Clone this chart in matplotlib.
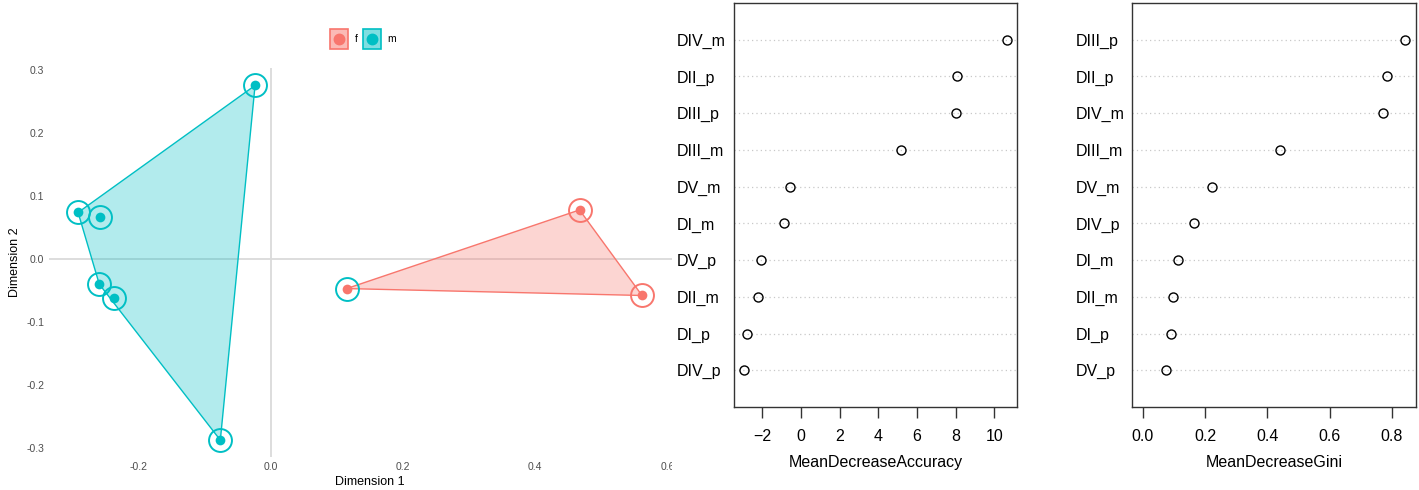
import numpy as np
import matplotlib
matplotlib.use("Agg")
import matplotlib.pyplot as plt
from matplotlib.patches import Patch, Polygon, Rectangle
from matplotlib.lines import Line2D
from matplotlib.legend_handler import HandlerBase

plt.rcParams['font.family'] = ['Liberation Sans', 'DejaVu Sans']

# --- MDS coordinates of samples ---
dim1 = [-0.0235, -0.291, -0.258, -0.259, -0.236, -0.076, 0.115, 0.467, 0.5615]
dim2 = [0.276, 0.074, 0.067, -0.040, -0.0625, -0.288, -0.047, 0.078, -0.058]
group = ['m', 'm', 'm', 'm', 'm', 'm', 'f', 'f', 'f']
ring_group = ['m', 'm', 'm', 'm', 'm', 'm', 'm', 'f', 'f']
levels = ['f', 'm']

# --- random forest variable importance ---
acc_vars = ['DIV_m', 'DII_p', 'DIII_p', 'DIII_m', 'DV_m', 'DI_m', 'DV_p', 'DII_m', 'DI_p', 'DIV_p']
acc_vals = [10.63, 8.05, 7.99, 5.17, -0.60, -0.86, -2.10, -2.21, -2.79, -2.93]
gini_vars = ['DIII_p', 'DII_p', 'DIV_m', 'DIII_m', 'DV_m', 'DIV_p', 'DI_m', 'DII_m', 'DI_p', 'DV_p']
gini_vals = [0.843, 0.783, 0.773, 0.441, 0.2216, 0.1635, 0.114, 0.0958, 0.0893, 0.0742]

acc_ticks = [-2, 0, 2, 4, 6, 8, 10]
gini_ticks = [0.0, 0.2, 0.4, 0.6, 0.8]
mds_xticks = [-0.2, 0.0, 0.2, 0.4, 0.6]
mds_yticks = [-0.3, -0.2, -0.1, 0.0, 0.1, 0.2, 0.3]

palette = {'f': '#F8766D', 'm': '#00BFC4'}

W, H = 1419, 490
fig = plt.figure(figsize=(W / 100, H / 100), dpi=100)


def px_rect(x0, y_top, x1, y_bot):
    return [x0 / W, 1 - y_bot / H, (x1 - x0) / W, (y_bot - y_top) / H]


def convex_hull(pts):
    pts = sorted(set(pts))
    if len(pts) <= 2:
        return pts

    def cross(o, a, b):
        return (a[0] - o[0]) * (b[1] - o[1]) - (a[1] - o[1]) * (b[0] - o[0])
    lower, upper = [], []
    for p in pts:
        while len(lower) >= 2 and cross(lower[-2], lower[-1], p) <= 0:
            lower.pop()
        lower.append(p)
    for p in reversed(pts):
        while len(upper) >= 2 and cross(upper[-2], upper[-1], p) <= 0:
            upper.pop()
        upper.append(p)
    return lower[:-1] + upper[:-1]


class BoxDotHandler(HandlerBase):
    """Legend key: a tinted square with a filled dot in its centre."""

    def create_artists(self, legend, orig_handle, xdescent, ydescent,
                       width, height, fontsize, trans):
        col = orig_handle.get_edgecolor()
        box = Rectangle((-xdescent, -ydescent), width, height,
                        fc=orig_handle.get_facecolor(), ec=col, lw=1.2,
                        transform=trans)
        dot = Line2D([width / 2 - xdescent], [height / 2 - ydescent],
                     marker='o', ms=7.5, color=col[:3], ls='none',
                     transform=trans)
        return [box, dot]


# ---------------- MDS panel ----------------
ax = fig.add_axes(px_rect(49, 68, 690, 457), zorder=0)
ax.set_xlim(-0.335, 0.634)
ax.set_ylim(-0.3148, 0.3037)
for s in ax.spines.values():
    s.set_visible(False)
ax.axhline(0, color='#DADADA', lw=1.3, zorder=0)
ax.axvline(0, color='#DADADA', lw=1.3, zorder=0)

d1 = np.array(dim1)
d2 = np.array(dim2)
g = np.array(group)
rg = np.array(ring_group)
for lev in levels:
    sel = g == lev
    hull = convex_hull(list(zip(d1[sel], d2[sel])))
    ax.add_patch(Polygon(hull, closed=True, fc=palette[lev], alpha=0.3,
                         ec='none', zorder=1))
    ax.add_patch(Polygon(hull, closed=True, fc='none', ec=palette[lev],
                         lw=1.0, zorder=2))
    ax.plot(d1[sel], d2[sel], 'o', color=palette[lev], ms=7, mew=0, zorder=3)
for lev in levels:
    sel = rg == lev
    ax.plot(d1[sel], d2[sel], 'o', mfc='none', mec=palette[lev], ms=16.5,
            mew=1.4, zorder=4)

ax.set_xticks(mds_xticks, [f"{v:.1f}" for v in mds_xticks])
ax.set_yticks(mds_yticks, [f"{v:.1f}" for v in mds_yticks])
ax.tick_params(length=0, labelsize=7.5, labelcolor='#4D4D4D', pad=3.5)
ax.set_xlabel('Dimension 1', fontsize=9, labelpad=3)
ax.set_ylabel('Dimension 2', fontsize=9, labelpad=4)

handles = [Patch(fc=matplotlib.colors.to_rgba(palette[lev], 0.5),
                 ec=palette[lev]) for lev in levels]
ax.legend(handles, levels, handler_map={Patch: BoxDotHandler()},
          loc='center', bbox_to_anchor=(363 / W, 1 - 39 / H),
          bbox_transform=fig.transFigure, ncol=2, frameon=False,
          fontsize=7.5, handlelength=1.75, handleheight=2.45,
          handletextpad=0.6, columnspacing=0.5)

# white backdrop for the importance panels
cover = fig.add_axes([672 / W, 0, 1 - 672 / W, 1], zorder=1)
cover.set_axis_off()
cover.add_patch(plt.Rectangle((0, 0), 1, 1, transform=cover.transAxes,
                              fc='white', ec='none'))


# ---------------- dot charts ----------------
def dotchart(rect, names, vals, xmin, ticks, tick_fmt, xlabel, ypad):
    a = fig.add_axes(rect, zorder=2)
    n = len(vals)
    ypos = np.arange(n, 0, -1)
    for y in ypos:
        a.axhline(y, color='#C8C8C8', ls=(0, (1, 2.5)), lw=0.9, zorder=1)
    a.plot(vals, ypos, 'o', mfc='none', mec='black', ms=6.5, mew=1.0, zorder=3)
    lo = min(vals) if xmin is None else xmin
    hi = max(vals)
    r = hi - lo
    a.set_xlim(lo - 0.04 * r, hi + 0.04 * r)
    a.set_ylim(0, n + 1)
    a.set_xticks(ticks, [tick_fmt(t) for t in ticks])
    a.set_yticks(ypos, names)
    for lab in a.get_yticklabels():
        lab.set_ha('left')
    a.tick_params(axis='y', length=0, pad=ypad, labelsize=11.5)
    a.tick_params(axis='x', length=8, width=1, color='#333333',
                  labelsize=11.5, pad=8)
    for s in a.spines.values():
        s.set_color('#333333')
        s.set_linewidth(1.0)
    a.set_xlabel(xlabel, fontsize=11.5, labelpad=8)
    a.set_facecolor('white')
    return a


dotchart(px_rect(734, 3, 1017, 407), acc_vars, acc_vals, None, acc_ticks,
         lambda t: f"{t:d}".replace('-', '\u2212'), 'MeanDecreaseAccuracy', 41)
dotchart(px_rect(1132.3, 3, 1415.7, 407), gini_vars, gini_vals, 0.0, gini_ticks,
         lambda t: f"{t:.1f}", 'MeanDecreaseGini', 40.5)

fig.savefig('out.png', dpi=100, facecolor='white')
